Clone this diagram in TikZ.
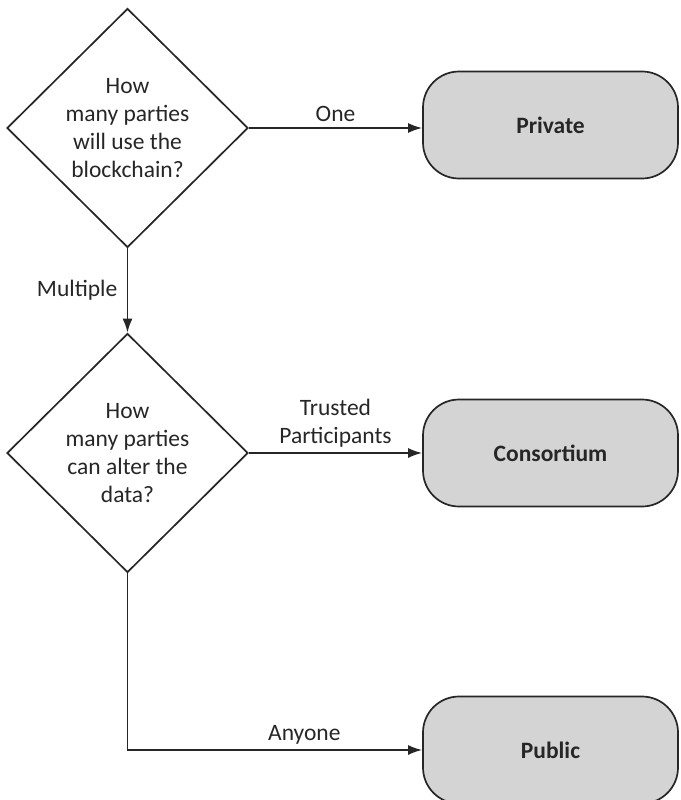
\documentclass[tikz,border=0pt]{standalone}
\usepackage{fontspec}
\setmainfont{Carlito}
\usetikzlibrary{shapes.geometric,arrows.meta}

\definecolor{boxgray}{HTML}{D4D4D4}
\definecolor{inkgray}{HTML}{262626}

\begin{document}
\begin{tikzpicture}[x=1pt, y=-1pt,
		question/.style={draw=inkgray, diamond, line width=1.7pt, minimum width=241pt, minimum height=239pt, inner sep=0pt, align=center, font=\fontsize{23.5}{28}\selectfont, text=inkgray},
		answer/.style={draw=inkgray, fill=boxgray, rounded corners=36pt, line width=1.7pt, minimum width=255pt, minimum height=107pt, font=\fontsize{23.5}{28}\selectfont\bfseries, text=inkgray},
		flow/.style={draw=inkgray, line width=1.7pt, -{Latex[length=14pt,width=10pt]}},
		lbl/.style={font=\fontsize{23.5}{28}\selectfont, text=inkgray, align=center}]
		\useasboundingbox (0,0) rectangle (680,800);

		\node[question] (q1) at (127.5,128) {How\\many parties\\will use the\\blockchain?};
		\node[question] (q2) at (127.5,453) {How\\many parties\\can alter the\\data?};

		\node[answer] (private) at (550.5,125) {Private};
		\node[answer] (consortium) at (550.5,453) {Consortium};
		\node[answer] (public) at (550.5,750) {Public};

		\draw[flow] (q1.east) -- (q1.east -| private.west) node[lbl, midway, above=2pt] {One};
		\draw[flow] (q1.south) -- (q2.north) node[lbl, midway, left=6pt] {Multiple};
		\draw[flow] (q2.east) -- (consortium.west) node[lbl, midway, above=2pt] {Trusted\\Participants};
		\draw[flow] (q2.south) |- (public.west) node[lbl, pos=0.8, above=2pt] {Anyone};

	\end{tikzpicture}
\end{document}
